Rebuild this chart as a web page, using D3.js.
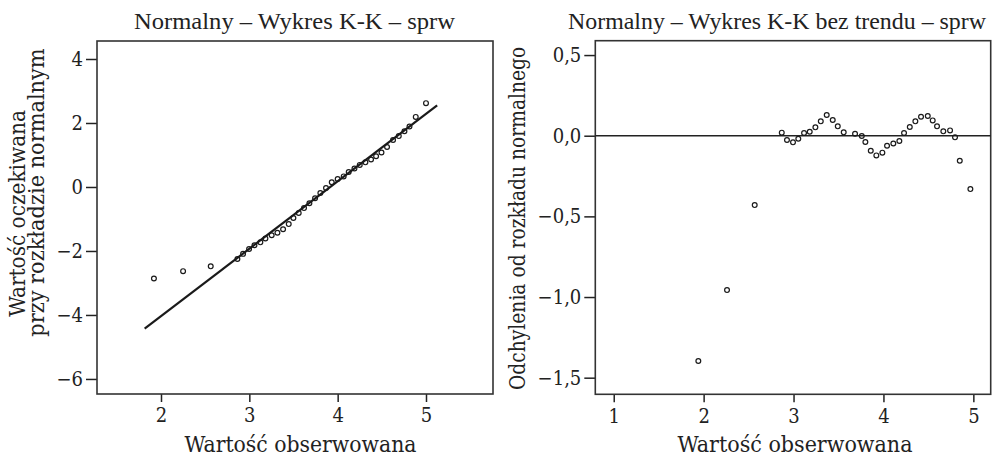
<!DOCTYPE html>
<html><head><meta charset="utf-8">
<script src="https://cdn.jsdelivr.net/npm/d3@7/dist/d3.min.js"></script>
<style>
html,body{margin:0;padding:0;background:#fff;}
svg text{font-family:"DejaVu Serif Condensed","DejaVu Serif",serif;font-stretch:condensed;fill:#222;}
svg text.ttl{font-family:"Liberation Serif",serif;font-stretch:normal;}
</style></head>
<body><svg id="c" width="994" height="456"></svg>
<script>
// ---- data ----
const obsLeft = [1.92,2.25,2.563,2.865,2.929,2.997,3.058,3.125,3.182,3.253,3.318,3.382,3.446,3.499,3.559,3.619,3.680,3.744,3.804,3.868,3.933,4.0,4.068,4.125,4.19,4.25,4.314,4.378,4.435,4.496,4.559,4.627,4.692,4.756,4.813,4.884,5.0];
const expLeft = [-2.86,-2.63,-2.48,-2.25,-2.09,-1.94,-1.82,-1.73,-1.61,-1.51,-1.43,-1.32,-1.16,-0.97,-0.81,-0.66,-0.51,-0.35,-0.19,-0.03,0.15,0.25,0.33,0.47,0.58,0.69,0.77,0.86,0.96,1.08,1.25,1.47,1.59,1.74,1.89,2.19,2.62];
const trendX = [1.815, 5.126];
const trendY = [-4.43, 2.55];
const obsRight = [1.941,2.26,2.568,2.869,2.927,2.994,3.053,3.117,3.180,3.243,3.303,3.369,3.436,3.492,3.558,3.684,3.759,3.799,3.859,3.921,3.988,4.04,4.11,4.177,4.229,4.293,4.355,4.418,4.493,4.548,4.596,4.666,4.741,4.796,4.849,4.967];
const devRight = [-1.397,-0.957,-0.430,0.019,-0.027,-0.041,-0.019,0.017,0.025,0.052,0.089,0.128,0.097,0.058,0.021,0.012,-0.002,-0.039,-0.093,-0.122,-0.105,-0.062,-0.048,-0.033,0.017,0.054,0.089,0.118,0.122,0.095,0.058,0.027,0.033,-0.010,-0.155,-0.331];
const ticksLeftX = [2,3,4,5];
const ticksLeftY = [4,2,0,-2,-4,-6];
const ticksRightX = [1,2,3,4,5];
const ticksRightY = [0.5,0.0,-0.5,-1.0,-1.5];
const titles = ["Normalny – Wykres K-K – sprw","Normalny – Wykres K-K bez trendu – sprw"];
const xTitle = "Wartość obserwowana";
const yTitleLeft = ["Wartość oczekiwana","przy rozkładzie normalnym"];
const yTitleRight = "Odchylenia od rozkładu normalnego";

const svg = d3.select("#c");
const ink = "#222";
const fmtInt = d => (d<0?"−":"") + Math.abs(d);
const fmtDec = d => (d<0?"−":"") + Math.abs(d).toFixed(1).replace(".",",");

function panel(o){
  const x = d3.scaleLinear().domain(o.xd).range([o.x0,o.x1]);
  const y = d3.scaleLinear().domain(o.yd).range([o.y1,o.y0]);
  const g = svg.append("g");
  const ax = g.append("g").attr("transform",`translate(0,${o.y1})`)
    .call(d3.axisBottom(x).tickValues(o.tx).tickSize(8).tickPadding(6).tickFormat(d=>String(d)));
  const ay = g.append("g").attr("transform",`translate(${o.x0},0)`)
    .call(d3.axisLeft(y).tickValues(o.ty).tickSize(11).tickPadding(3).tickFormat(o.fy));
  [ax,ay].forEach(a=>{
    a.select(".domain").remove();
    a.selectAll(".tick line").attr("stroke",ink).attr("stroke-width",1.5);
    a.selectAll(".tick text").style("font-size","20px").attr("fill",ink);
  });
  ax.selectAll(".tick text").attr("dy","0.72em");
  g.append("rect").attr("x",o.x0).attr("y",o.y0).attr("width",o.x1-o.x0).attr("height",o.y1-o.y0)
    .attr("fill","none").attr("stroke","#333").attr("stroke-width",1.6);
  return {x,y,g};
}

// Left panel
const L = panel({x0:97,x1:493,y0:41,y1:394,xd:[1.2755,5.7585],yd:[-6.47,4.5625],tx:ticksLeftX,ty:ticksLeftY,fy:fmtInt});
L.g.append("path").datum(d3.zip(trendX,trendY))
  .attr("d",d3.line().x(d=>L.x(d[0])).y(d=>L.y(d[1])))
  .attr("stroke","#1a1a1a").attr("stroke-width",2.2).attr("fill","none");
L.g.selectAll("circle").data(d3.zip(obsLeft,expLeft)).join("circle")
  .attr("cx",d=>L.x(d[0])).attr("cy",d=>L.y(d[1])).attr("r",2.4)
  .attr("fill","none").attr("stroke","#1a1a1a").attr("stroke-width",1.2);

// Right panel
const R = panel({x0:595.3,x1:990.7,y0:40.7,y1:394.3,xd:[0.795,5.193],yd:[-1.603,0.589],tx:ticksRightX,ty:ticksRightY,fy:fmtDec});
R.g.append("line").attr("x1",R.x(R.x.domain()[0])).attr("x2",R.x(R.x.domain()[1]))
  .attr("y1",R.y(0)).attr("y2",R.y(0)).attr("stroke","#222").attr("stroke-width",1.5);
R.g.selectAll("circle").data(d3.zip(obsRight,devRight)).join("circle")
  .attr("cx",d=>R.x(d[0])).attr("cy",d=>R.y(d[1])).attr("r",2.4)
  .attr("fill","none").attr("stroke","#1a1a1a").attr("stroke-width",1.2);

function txt(s,x,y,size,len,anchor,rot,cls){
  const t = svg.append("text").text(s).attr("x",x).attr("y",y).style("font-size",size+"px")
    .attr("text-anchor",anchor||"start");
  if(cls) t.attr("class",cls);
  if(len){t.attr("textLength",len).attr("lengthAdjust","spacingAndGlyphs");}
  if(rot){t.attr("transform",`rotate(-90,${x},${y})`);}
  return t;
}
txt(titles[0],134,29,23,321,"start",false,"ttl");
txt(titles[1],568,29,23,418,"start",false,"ttl");
txt(xTitle,184.5,452,22,232);
txt(xTitle,677.5,452,22,235);
txt(yTitleLeft[0],25,316.7,21.5,206.7,"start",true);
txt(yTitleLeft[1],44,336.7,21.5,288.4,"start",true);
txt(yTitleRight,525,390,21.5,343.3,"start",true);
</script></body></html>
